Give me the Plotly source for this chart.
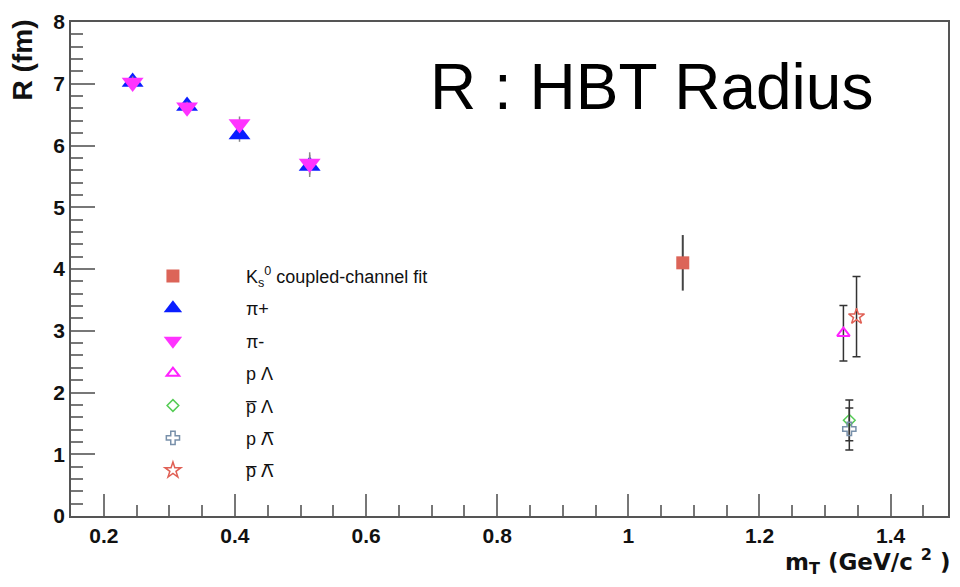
import plotly.graph_objects as go

# ---- data ----
k0_x = [1.083]
k0_y = [4.10]
k0_err = [0.45]

pip_x = [0.244, 0.327, 0.407, 0.514]
pip_y = [7.03, 6.64, 6.18, 5.67]
pip_err = [0.10, 0.09, 0.12, 0.18]

pim_x = [0.244, 0.327, 0.407, 0.514]
pim_y = [7.02, 6.62, 6.35, 5.71]
pim_err = [0.10, 0.09, 0.12, 0.18]

pL_x = [1.328]
pL_y = [2.96]
pL_err = [0.45]

apL_x = [1.337]
apL_y = [1.55]
apL_err = [0.33]

pAL_x = [1.337]
pAL_y = [1.41]
pAL_err = [0.34]

apAL_x = [1.348]
apAL_y = [3.23]
apAL_err = [0.65]

LBAR = '<span style="font-family:DejaVu Sans">\u039b\u0305</span>'
names = [
    "K<sub>s</sub><sup>0</sup> coupled-channel fit",
    "\u03c0+",
    "\u03c0-",
    "p \u039b",
    "p\u0305 \u039b",
    "p " + LBAR,
    "p\u0305 " + LBAR,
]

x_ticks = [0.2, 0.4, 0.6, 0.8, 1.0, 1.2, 1.4]
y_ticks = [0, 1, 2, 3, 4, 5, 6, 7, 8]

fig = go.Figure()

def add(x, y, e, name, symbol, color, size, lw, ecolor="#333333", ewidth=1.5, cap=0, group=""):
    fig.add_trace(go.Scatter(
        x=x, y=y, mode="markers", name=name, legendgroup=group,
        marker=dict(symbol=symbol, color=color, size=size,
                    line=dict(color=color, width=lw)),
        error_y=dict(type="data", array=e, visible=True, color=ecolor,
                     thickness=ewidth, width=cap),
    ))

add(k0_x, k0_y, k0_err, names[0], "square", "#dc6458", 13, 0, ecolor="#444444", ewidth=2, cap=0, group="a")
add(pip_x, pip_y, pip_err, names[1], "triangle-up", "#0a1eff", 19, 0, ecolor="#888888", ewidth=1.5, cap=0, group="b")
add(pim_x, pim_y, pim_err, names[2], "triangle-down", "#ff33ff", 19, 0, ecolor="#888888", ewidth=1.5, cap=0, group="c")
add(pL_x, pL_y, pL_err, names[3], "triangle-up-open", "#ff22ff", 11, 2, ecolor="#333333", ewidth=1.5, cap=4, group="d")
add(apL_x, apL_y, apL_err, names[4], "diamond-open", "#55cc55", 9, 1.5, ecolor="#333333", ewidth=1.5, cap=4, group="e")
add(pAL_x, pAL_y, pAL_err, names[5], "cross-open", "#7890aa", 11, 1.5, ecolor="#333333", ewidth=1.5, cap=4, group="f")
add(apAL_x, apAL_y, apAL_err, names[6], "star-open", "#e06055", 12, 1.5, ecolor="#333333", ewidth=1.5, cap=4, group="g")

axis_common = dict(
    showline=True, linecolor="#555555", linewidth=1.5, mirror=True,
    ticks="inside", tickcolor="#777777", tickwidth=1.5,
    showgrid=False, zeroline=False,
    tickfont=dict(family="Liberation Sans", size=21, color="#111111", weight="bold"),
)

fig.update_xaxes(range=[0.15, 1.4875], tickvals=x_ticks,
                 ticktext=[("%g" % v) for v in x_ticks],
                 ticklen=22,
                 minor=dict(dtick=0.05, tick0=0.2, ticks="inside", ticklen=11,
                            tickcolor="#777777", tickwidth=1.5),
                 **axis_common)
fig.update_yaxes(range=[0, 8], tickvals=y_ticks, ticklen=24,
                 minor=dict(dtick=0.2, tick0=0, ticks="inside", ticklen=12,
                            tickcolor="#777777", tickwidth=1.5),
                 **axis_common)

fig.add_annotation(text="R : HBT Radius", xref="paper", yref="paper",
                   x=(429 - 71) / 879, y=(516 - 79) / 503,
                   xanchor="left", yanchor="middle", showarrow=False,
                   font=dict(family="Liberation Sans", size=64, color="#000000"))

fig.add_annotation(text="R (fm)", xref="paper", yref="paper",
                   x=(22 - 71) / 879, y=(516 - 52) / 503, textangle=-90,
                   xanchor="center", yanchor="middle", showarrow=False,
                   font=dict(family="Liberation Sans", size=28, color="#111111", weight="bold"))

fig.add_annotation(text="m<sub>T</sub> (GeV/c <sup>2</sup> )", xref="paper", yref="paper",
                   x=(955 - 71) / 879, y=(516 - 562) / 503,
                   xanchor="right", yanchor="middle", showarrow=False,
                   font=dict(family="DejaVu Sans", size=23, color="#111111", weight="bold"))

fig.update_layout(
    width=960, height=587,
    margin=dict(l=71, r=10, t=13, b=71),
    paper_bgcolor="white", plot_bgcolor="white",
    showlegend=True,
    legend=dict(x=(100 - 71) / 879, y=(516 - 253) / 503, xanchor="left", yanchor="top",
                bgcolor="rgba(0,0,0,0)", borderwidth=0,
                itemwidth=136, tracegroupgap=6, traceorder="grouped",
                font=dict(family="Liberation Sans", size=18, color="#111111")),
)

fig.write_html("out.html")
